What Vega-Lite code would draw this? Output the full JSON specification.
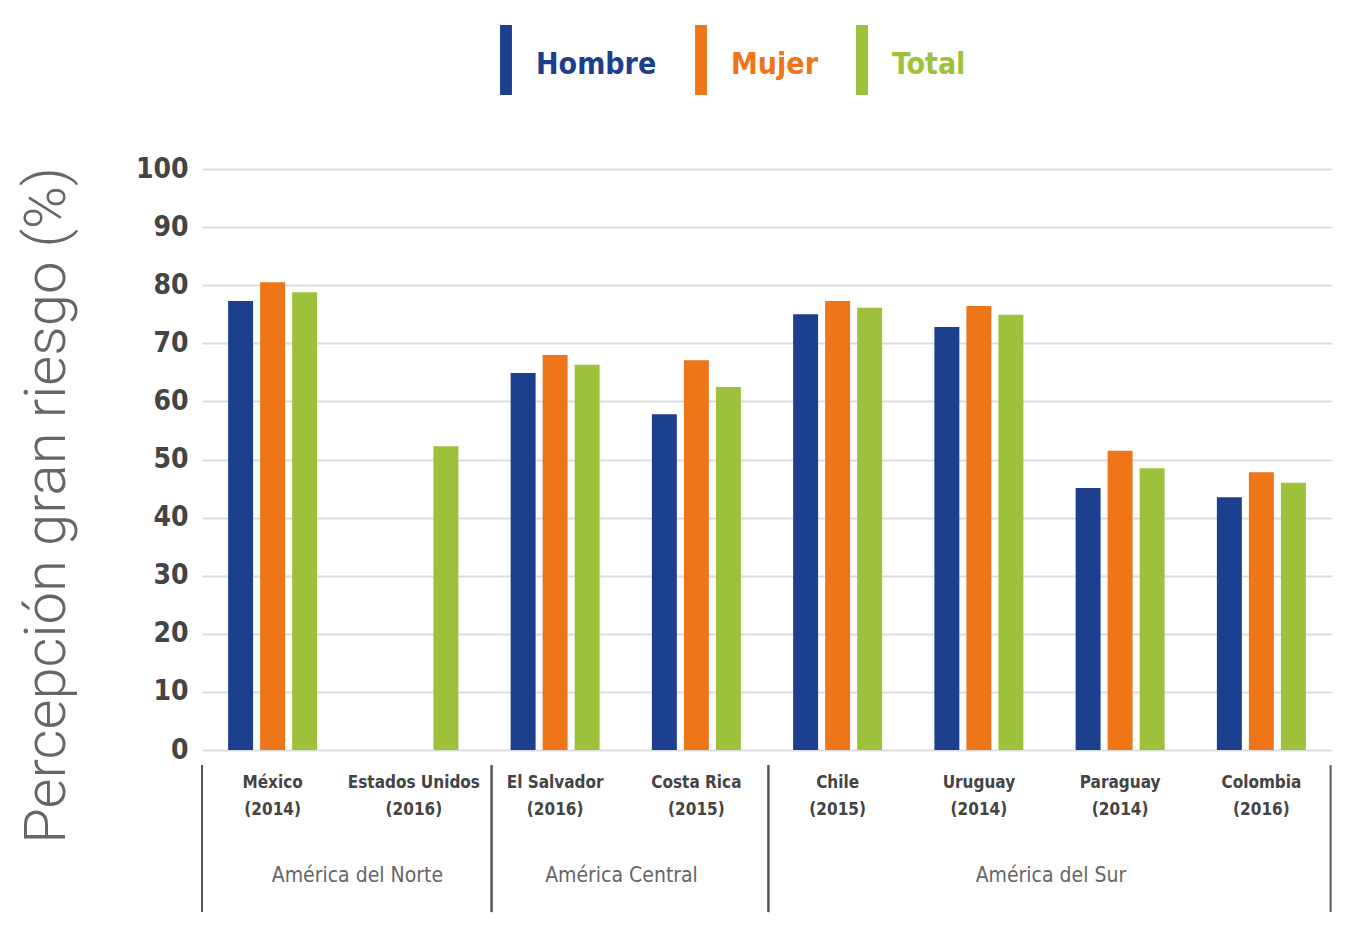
{
  "$schema": "https://vega.github.io/schema/vega-lite/v6.json",
  "width": 1130,
  "height": 581,
  "autosize": {"type": "none"},
  "padding": {"left": 202, "top": 169, "right": 28, "bottom": 184},
  "background": "white",
  "config": {"view": {"stroke": null}, "font": "DejaVu Sans Condensed"},
  "datasets": {
    "barras": [
      {"pais": "México|(2014)", "grupo": "Hombre", "valor": 77.3},
      {"pais": "México|(2014)", "grupo": "Mujer", "valor": 80.5},
      {"pais": "México|(2014)", "grupo": "Total", "valor": 78.8},
      {"pais": "Estados Unidos|(2016)", "grupo": "Total", "valor": 52.3},
      {"pais": "El Salvador|(2016)", "grupo": "Hombre", "valor": 64.9},
      {"pais": "El Salvador|(2016)", "grupo": "Mujer", "valor": 68.0},
      {"pais": "El Salvador|(2016)", "grupo": "Total", "valor": 66.3},
      {"pais": "Costa Rica|(2015)", "grupo": "Hombre", "valor": 57.8},
      {"pais": "Costa Rica|(2015)", "grupo": "Mujer", "valor": 67.1},
      {"pais": "Costa Rica|(2015)", "grupo": "Total", "valor": 62.5},
      {"pais": "Chile|(2015)", "grupo": "Hombre", "valor": 75.0},
      {"pais": "Chile|(2015)", "grupo": "Mujer", "valor": 77.3},
      {"pais": "Chile|(2015)", "grupo": "Total", "valor": 76.1},
      {"pais": "Uruguay|(2014)", "grupo": "Hombre", "valor": 72.8},
      {"pais": "Uruguay|(2014)", "grupo": "Mujer", "valor": 76.4},
      {"pais": "Uruguay|(2014)", "grupo": "Total", "valor": 74.9},
      {"pais": "Paraguay|(2014)", "grupo": "Hombre", "valor": 45.1},
      {"pais": "Paraguay|(2014)", "grupo": "Mujer", "valor": 51.5},
      {"pais": "Paraguay|(2014)", "grupo": "Total", "valor": 48.5},
      {"pais": "Colombia|(2016)", "grupo": "Hombre", "valor": 43.5},
      {"pais": "Colombia|(2016)", "grupo": "Mujer", "valor": 47.8},
      {"pais": "Colombia|(2016)", "grupo": "Total", "valor": 46.0}
    ],
    "regiones": [
      {"region": "América del Norte", "desde": 0, "hasta": 2.05, "centro": 1.1},
      {"region": "América Central", "desde": 2.05, "hasta": 4.01, "centro": 2.97},
      {"region": "América del Sur", "desde": 4.01, "hasta": 7.99, "centro": 6.01}
    ]
  },
  "layer": [
    {
      "data": {"name": "barras"},
      "mark": {"type": "bar"},
      "encoding": {
        "x": {
          "field": "pais",
          "type": "nominal",
          "sort": ["México|(2014)", "Estados Unidos|(2016)", "El Salvador|(2016)", "Costa Rica|(2015)", "Chile|(2015)", "Uruguay|(2014)", "Paraguay|(2014)", "Colombia|(2016)"],
          "scale": {"paddingInner": 0.37, "paddingOuter": 0.185},
          "axis": {
            "title": null,
            "labelExpr": "split(datum.value, '|')",
            "labelAngle": 0,
            "labelFontSize": 17,
            "labelFontWeight": "bold",
            "labelFont": "DejaVu Sans Condensed",
            "labelColor": "#444444",
            "labelBaseline": "top",
            "labelLineHeight": 27,
            "labelPadding": 24,
            "labelLimit": 0,
            "ticks": false,
            "domain": false
          }
        },
        "xOffset": {
          "field": "grupo",
          "type": "nominal",
          "scale": {"domain": ["Hombre", "Mujer", "Total"], "paddingInner": 0.22, "paddingOuter": 0}
        },
        "y": {
          "field": "valor",
          "type": "quantitative",
          "scale": {"domain": [0, 100], "nice": false},
          "axis": {
            "title": "Percepción gran riesgo (%)",
            "values": [0, 10, 20, 30, 40, 50, 60, 70, 80, 90, 100],
            "grid": true,
            "gridColor": "#dddddd",
            "gridWidth": 2,
            "ticks": false,
            "domain": false,
            "labelFontSize": 28,
            "labelFontWeight": "bold",
            "labelFont": "DejaVu Sans Condensed",
            "labelColor": "#444444",
            "labelPadding": 14,
            "titleFontSize": 58,
            "titleFontWeight": 300,
            "titleFont": "Roboto",
            "titleColor": "#666666",
            "titleX": -155,
            "titleY": 336,
            "titleAngle": -90,
            "titleAlign": "center",
            "titleBaseline": "middle"
          }
        },
        "color": {
          "field": "grupo",
          "type": "nominal",
          "scale": {"domain": ["Hombre", "Mujer", "Total"], "range": ["#1c3f8e", "#ee7518", "#9dc13b"]},
          "legend": {
            "title": null,
            "orient": "none",
            "legendX": 269,
            "legendY": -144,
            "direction": "horizontal",
            "symbolType": "M-0.17,-1H0.17V1H-0.17Z",
            "symbolSize": 4900,
            "symbolStrokeWidth": 0,
            "symbolOpacity": 1,
            "labelFontSize": 30,
            "labelFontWeight": "bold",
            "labelFont": "DejaVu Sans Condensed",
            "labelOffset": -5,
            "columnPadding": 9,
            "encode": {"labels": {"update": {"fill": {"scale": "color", "field": "value"}, "dy": {"value": 5}}}}
          }
        }
      }
    },
    {
      "data": {"name": "regiones"},
      "mark": {"type": "rule", "stroke": "#555555", "strokeWidth": 2},
      "encoding": {
        "x": {"field": "desde", "type": "quantitative", "scale": {"domain": [0, 8], "nice": false, "zero": false}, "axis": null},
        "y": {"datum": -2.6, "type": "quantitative", "scale": {"domain": [0, 100], "nice": false}},
        "y2": {"datum": -27.9}
      }
    },
    {
      "data": {"name": "regiones"},
      "mark": {"type": "rule", "stroke": "#555555", "strokeWidth": 2},
      "encoding": {
        "x": {"field": "hasta", "type": "quantitative", "scale": {"domain": [0, 8], "nice": false, "zero": false}, "axis": null},
        "y": {"datum": -2.6, "type": "quantitative", "scale": {"domain": [0, 100], "nice": false}},
        "y2": {"datum": -27.9}
      }
    },
    {
      "data": {"name": "regiones"},
      "mark": {"type": "text", "fontSize": 21, "color": "#666666", "font": "DejaVu Sans Condensed", "baseline": "middle", "align": "center"},
      "encoding": {
        "x": {"field": "centro", "type": "quantitative", "scale": {"domain": [0, 8], "nice": false, "zero": false}, "axis": null},
        "y": {"datum": -21.7, "type": "quantitative", "scale": {"domain": [0, 100], "nice": false}},
        "text": {"field": "region"}
      }
    }
  ],
  "resolve": {"scale": {"x": "independent"}}
}
